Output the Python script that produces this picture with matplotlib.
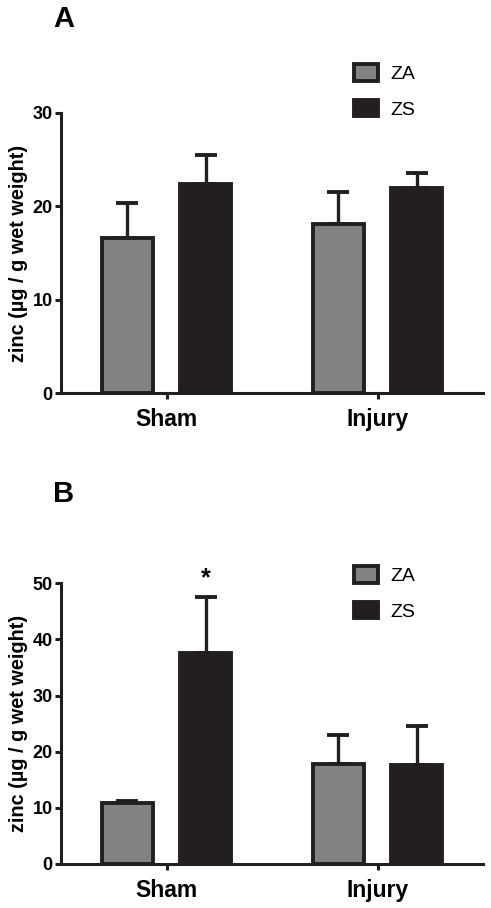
import numpy as np
import matplotlib
matplotlib.use('Agg')
import matplotlib.pyplot as plt
from matplotlib.patches import Patch

plt.rcParams['font.family'] = ['Liberation Sans', 'DejaVu Sans']

groups = ['Sham', 'Injury']
series = ['ZA', 'ZS']
colors = ['#808284', '#231f20']

# panel A
a_mean = {'ZA': [16.6, 18.1], 'ZS': [22.4, 22.0]}
a_err = {'ZA': [3.7, 3.4], 'ZS': [3.1, 1.6]}
# panel B
b_mean = {'ZA': [10.8, 17.8], 'ZS': [37.6, 17.7]}
b_err = {'ZA': [0.5, 5.2], 'ZS': [9.9, 6.8]}

fig = plt.figure(figsize=(4.91, 9.08), dpi=100)


def panel(rect, means, errs, ymax, yticks, letter, letter_y, leg_y, star=None):
    ax = fig.add_axes(rect)
    x = np.arange(len(groups))
    offsets = [-0.186, 0.186]
    for s, off, c in zip(series, offsets, colors):
        ax.bar(x + off, means[s], width=0.24, color=c, edgecolor='#231f20',
               linewidth=2.8, zorder=2)
        ax.errorbar(x + off, means[s], yerr=[np.zeros(len(groups)), errs[s]],
                    fmt='none', ecolor='#231f20', elinewidth=2.4,
                    capsize=7.8, capthick=2.8, zorder=1)
    ax.set_xlim(-0.5, 1.5)
    ax.set_ylim(0, ymax)
    ax.set_yticks(yticks)
    ax.set_xticks(x)
    ax.set_xticklabels(groups, fontsize=16.5, fontweight='bold')
    for lab in ax.get_yticklabels():
        lab.set_fontsize(13)
        lab.set_fontweight('bold')
    ax.tick_params(axis='both', direction='out', length=4.5, width=2.2,
                   color='#231f20', pad=1.5)
    ax.tick_params(axis='x', pad=6)
    for sp in ['top', 'right']:
        ax.spines[sp].set_visible(False)
    for sp in ['left', 'bottom']:
        ax.spines[sp].set_linewidth(2.2)
        ax.spines[sp].set_color('#231f20')
    ax.set_ylabel('zinc (\u00b5g / g wet weight)', fontsize=14.3,
                  fontweight='bold', labelpad=3)
    fig.text(53 / 491, 1 - letter_y / 908, letter, fontsize=21,
             fontweight='bold', va='center', ha='left')
    handles = [Patch(facecolor=c, edgecolor='#231f20', linewidth=2.8,
                     joinstyle='round') for c in colors]
    fig.legend(handles, series, loc='upper left',
               bbox_to_anchor=(354 / 491, 1 - leg_y / 908), frameon=False,
               fontsize=14, handlelength=1.25, handleheight=0.95,
               handletextpad=0.6, labelspacing=0.85, borderaxespad=0,
               borderpad=0)
    if star is not None:
        ax.text(x[star[0]] + offsets[star[1]], star[2], '*', ha='center',
                va='center', fontsize=18, fontweight='bold')
    return ax


panel([61 / 491, 1 - 393.3 / 908, 422 / 491, 280.6 / 908], a_mean, a_err,
      30, [0, 10, 20, 30], 'A', 19, 64)
panel([61 / 491, 1 - 864 / 908, 422 / 491, 280.7 / 908], b_mean, b_err,
      50, [0, 10, 20, 30, 40, 50], 'B', 494, 566, star=(0, 1, 50.8))

fig.savefig('out.png', dpi=100)
